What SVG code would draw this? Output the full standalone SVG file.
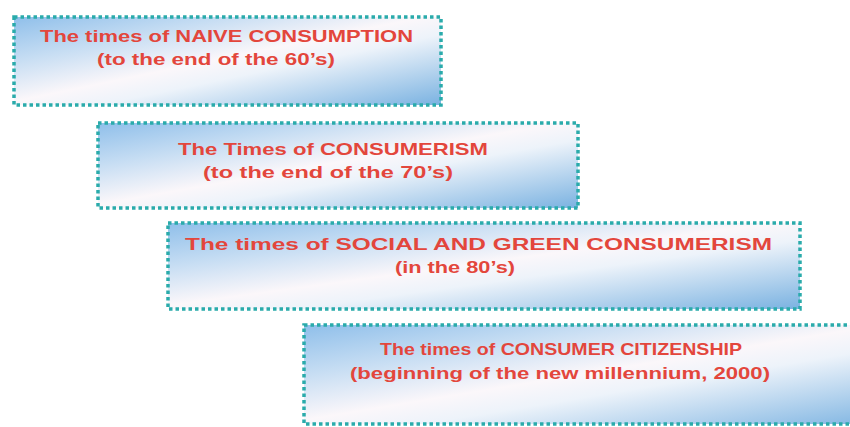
<svg xmlns="http://www.w3.org/2000/svg" width="850" height="427" viewBox="0 0 850 427">
<defs>
<linearGradient id="g" x1="0" y1="0" x2="1" y2="1">
<stop offset="0" stop-color="#8fbfea"/>
<stop offset="0.25" stop-color="#c6ddf3"/>
<stop offset="0.48" stop-color="#fbf7fa"/>
<stop offset="0.6" stop-color="#edf3fa"/>
<stop offset="1" stop-color="#7ab2e1"/>
</linearGradient>
<style>
.box{fill:url(#g);stroke:#2aabab;stroke-width:3.5;stroke-dasharray:3.5 3}
.t{font-family:"Liberation Sans","DejaVu Sans",Arial,sans-serif;font-weight:700;font-size:16.5px;fill:#e3463c}
</style>
</defs>
<rect width="850" height="427" fill="#ffffff"/>
<g id="node1">
<rect class="box" x="14" y="17" width="427" height="88"/>
<text class="t" x="40" y="42" textLength="373" lengthAdjust="spacingAndGlyphs">The times of NAIVE CONSUMPTION</text>
<text class="t" x="97" y="65" textLength="238" lengthAdjust="spacingAndGlyphs">(to the end of the 60’s)</text>
</g>
<g id="node2">
<rect class="box" x="98" y="123" width="480" height="85"/>
<text class="t" x="178" y="155" textLength="310" lengthAdjust="spacingAndGlyphs">The Times of CONSUMERISM</text>
<text class="t" x="203" y="178" textLength="250" lengthAdjust="spacingAndGlyphs">(to the end of the 70’s)</text>
</g>
<g id="node3">
<rect class="box" x="168" y="223" width="632" height="86"/>
<text class="t" x="185" y="250" textLength="587" lengthAdjust="spacingAndGlyphs">The times of SOCIAL AND GREEN CONSUMERISM</text>
<text class="t" x="395" y="273" textLength="120" lengthAdjust="spacingAndGlyphs">(in the 80’s)</text>
</g>
<g id="node4">
<rect class="box" x="304" y="325" width="600" height="99"/>
<text class="t" x="380" y="355" textLength="362" lengthAdjust="spacingAndGlyphs">The times of CONSUMER CITIZENSHIP</text>
<text class="t" x="350" y="379" textLength="420" lengthAdjust="spacingAndGlyphs">(beginning of the new millennium, 2000)</text>
</g>
<g id="connectors"></g>
</svg>
